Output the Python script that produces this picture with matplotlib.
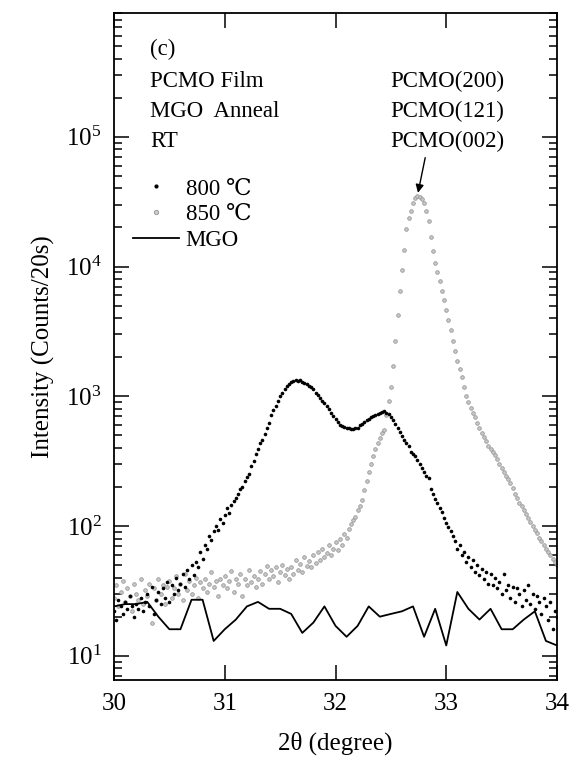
import numpy as np
import matplotlib
matplotlib.use("Agg")
import matplotlib.pyplot as plt
from matplotlib.lines import Line2D

plt.rcParams.update({
    "font.family": ["Liberation Serif", "DejaVu Serif"],
    "mathtext.fontset": "stix",
    "axes.linewidth": 1.3,
})

# 2theta scan grid of the two films (step 0.02 deg)
two_theta = np.linspace(30.0, 34.0, 201)

# 800 C annealed film (counts / 20 s)
i_800 = [
    22, 19, 27, 24, 21, 26, 23, 29, 24, 20,
    25, 23, 28, 22, 26, 30, 24, 34, 21, 27,
    31, 25, 33, 28, 37, 26, 35, 30, 40, 32,
    36, 43, 34, 46, 39, 50, 42, 53, 48, 63,
    56, 72, 67, 84, 78, 92, 100, 93, 114, 106,
    121, 137, 125, 146, 155, 165, 178, 192, 201, 224,
    238, 252, 288, 316, 362, 389, 434, 460, 515, 569,
    622, 712, 784, 846, 916, 997, 1068, 1130, 1200, 1252,
    1278, 1313, 1340, 1322, 1331, 1296, 1270, 1243, 1208, 1173,
    1130, 1068, 1015, 971, 925, 881, 846, 802, 749, 704,
    668, 632, 605, 592, 579, 569, 565, 560, 556, 565,
    574, 596, 614, 632, 659, 673, 686, 704, 722, 731,
    744, 758, 767, 749, 731, 695, 659, 614, 569, 533,
    497, 460, 434, 416, 371, 362, 344, 321, 298, 280,
    262, 245, 234, 192, 178, 162, 151, 137, 128, 116,
    105, 99, 91, 84, 76, 67, 72, 60, 63, 53,
    58, 48, 55, 44, 50, 42, 47, 39, 44, 36,
    43, 35, 40, 33, 37, 30, 43, 32, 35, 28,
    34, 26, 33, 30, 24, 32, 27, 35, 25, 30,
    23, 29, 26, 21, 28, 24, 19, 26, 16, 22,
    20,
]

# 850 C annealed film
i_850 = [
    28, 35, 24, 31, 38, 26, 33, 29, 22, 36,
    30, 27, 39, 25, 32, 29, 36, 18, 33, 27,
    39, 30, 35, 25, 34, 38, 28, 33, 41, 30,
    36, 27, 43, 32, 38, 30, 35, 40, 28, 37,
    33, 39, 31, 36, 44, 34, 38, 29, 39, 35,
    41, 33, 38, 45, 31, 39, 36, 43, 29, 39,
    35, 46, 37, 41, 34, 39, 45, 36, 43, 49,
    39, 46, 41, 48, 37, 44, 50, 42, 47, 39,
    48, 43, 55, 46, 51, 44, 58, 49, 54, 48,
    60, 52, 63, 55, 67, 58, 62, 71, 60, 67,
    75, 65, 80, 72, 86, 81, 95, 103, 112, 118,
    132, 143, 158, 188, 224, 262, 298, 344, 389, 434,
    479, 524, 551, 712, 925, 1170, 1700, 2660, 4215, 6520,
    9450, 13300, 19500, 23600, 26900, 31100, 33600, 34800, 34400, 33200,
    31100, 26900, 22400, 17000, 13200, 10700, 9050, 7800, 6520, 5500,
    4630, 3870, 3270, 2660, 2230, 1880, 1620, 1400, 1170, 997,
    907, 819, 749, 686, 622, 569, 524, 488, 452, 416,
    389, 371, 353, 326, 298, 280, 262, 243, 229, 216,
    197, 178, 165, 151, 142, 132, 123, 116, 108, 100,
    93, 88, 81, 76, 71, 67, 63, 60, 56, 53,
    50,
]

# MgO substrate reference (step 0.1 deg)
two_theta_mgo = np.linspace(30.0, 34.0, 41)
i_mgo = [
    24, 25, 25, 26, 20, 16, 16, 27, 27, 13,
    16, 19, 24, 26, 23, 23, 21, 15, 18, 24,
    17, 14, 17, 24, 20, 21, 22, 24, 14, 23,
    12, 31, 23, 19, 23, 16, 16, 19, 22, 13,
    12,
]

fig = plt.figure(figsize=(5.76, 7.62), dpi=100)
ax = fig.add_axes([114 / 576, 1 - 680 / 762, 443 / 576, 667 / 762])

ax.plot(two_theta, i_850, "o", ms=2.6, mfc="#cacaca", mec="#979797", mew=0.6,
        label="850 ℃")
ax.plot(two_theta, i_800, "o", ms=2.6, color="black", mew=0, label="800 ℃")
ax.plot(two_theta_mgo, i_mgo, "-", color="black", lw=1.3, label="MGO")

ax.set_yscale("log")
ax.set_xlim(30, 34)
ax.set_ylim(6.5, 9.0e5)
ax.set_xticks([30, 31, 32, 33, 34])

ax.tick_params(which="both", direction="in", top=True, right=True,
               labelsize=18, width=1.1)
ax.tick_params(which="major", length=11, pad=9)
ax.tick_params(which="minor", length=5.5)
ax.tick_params(axis="x", which="minor", bottom=False, top=False)

ax.set_xlabel("2θ (degree)", fontsize=18, labelpad=12)
ax.set_ylabel("Intensity (Counts/20s)", fontsize=18, labelpad=8)

# sample description
kw = dict(transform=ax.transAxes, fontsize=16.5, va="baseline")
ax.text(0.081, 0.937, "(c)", **kw)
ax.text(0.081, 0.889, "PCMO Film", **kw)
ax.text(0.081, 0.844, "MGO  Anneal", **kw)
ax.text(0.081, 0.799, "RT", **kw)
ax.text(0.881, 0.889, "PCMO(200)", ha="right", **kw)
ax.text(0.881, 0.844, "PCMO(121)", ha="right", **kw)
ax.text(0.881, 0.799, "PCMO(002)", ha="right", **kw)

ax.annotate("", xy=(32.745, 3.7e4), xytext=(32.81, 6.9e4),
            arrowprops=dict(arrowstyle="-|>", color="black", lw=1.0,
                            mutation_scale=12, shrinkA=0, shrinkB=0))

handles = [
    Line2D([], [], ls="none", marker="o", ms=3, color="black", mew=0),
    Line2D([], [], ls="none", marker="o", ms=3.2, mfc="#cacaca", mec="#979797", mew=0.6),
    Line2D([], [], ls="-", color="black", lw=1.3),
]
ax.legend(handles, ["800 ℃", "850 ℃", "MGO"], loc="upper left",
          bbox_to_anchor=(0.043, 0.752), frameon=False, fontsize=16.5,
          borderaxespad=0, borderpad=0, handlelength=2.0,
          handletextpad=0.3, labelspacing=0.2)

fig.savefig("out.png", dpi=100)
